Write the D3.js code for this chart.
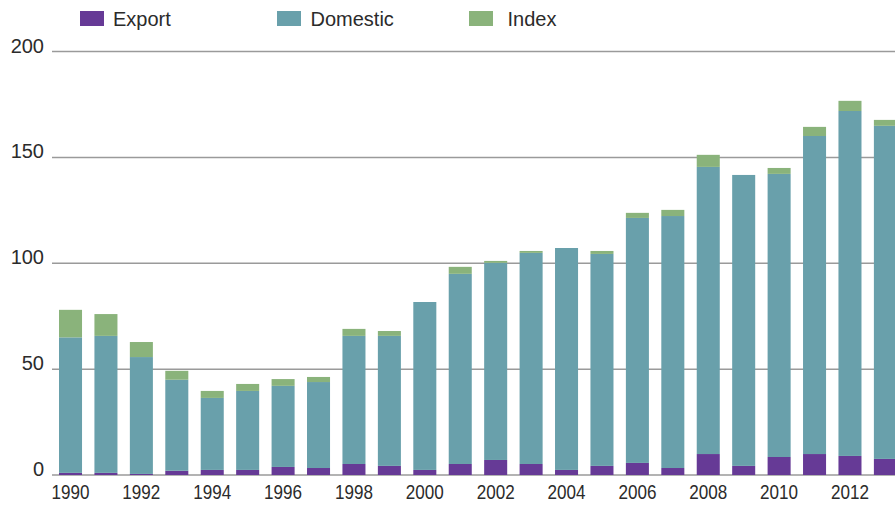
<!DOCTYPE html>
<html>
<head>
<meta charset="utf-8">
<script src="https://cdn.jsdelivr.net/npm/d3@7"></script>
<style>
  html, body { margin: 0; padding: 0; background: #fff; }
  svg { display: block; }
  text { font-family: "Liberation Sans", Arial, Helvetica, sans-serif; fill: #2b2b2b; }
</style>
</head>
<body>
<svg id="chart" width="895" height="507"></svg>
<script>
const years = [1990,1991,1992,1993,1994,1995,1996,1997,1998,1999,2000,2001,2002,2003,2004,2005,2006,2007,2008,2009,2010,2011,2012,2013];
const exportVals   = [1.0, 1.0, 0.5, 2.0, 2.4, 2.4, 3.8, 3.3, 5.2, 4.3, 2.4, 5.2, 7.1, 5.2, 2.4, 4.3, 5.7, 3.3, 9.9, 4.3, 8.5, 9.9, 9.0, 7.6];
const domesticVals = [64.0, 64.7, 55.2, 43.0, 34.0, 37.3, 38.3, 40.6, 60.5, 61.4, 79.3, 89.8, 93.1, 99.7, 104.8, 100.1, 115.7, 119.0, 135.6, 137.4, 133.7, 150.2, 162.9, 157.3];
const indexVals    = [13.0, 10.3, 7.1, 4.2, 3.3, 3.3, 3.2, 2.4, 3.3, 2.3, 0, 3.3, 0.9, 0.9, 0, 1.4, 2.4, 2.9, 5.7, 0, 2.8, 4.3, 4.8, 2.8];
const seriesNames = ["Export", "Domestic", "Index"];
const seriesColors = ["#663a96", "#69a0ab", "#8ab37b"];
const yTicks = [0, 50, 100, 150, 200];
const xTickLabels = [1990,1992,1994,1996,1998,2000,2002,2004,2006,2008,2010,2012];

const svg = d3.select("#chart");
const rows = years.map((yr, i) => ({year: yr, Export: exportVals[i], Domestic: domesticVals[i], Index: indexVals[i]}));

const step = 35.43;
const r0 = 59 - 0.175 * step;
const x = d3.scaleBand().domain(years).range([r0, r0 + 24 * step]).paddingInner(0.35).paddingOuter(0.175);
const y = d3.scaleLinear().domain([0, 200]).range([475, 51.5]);
const color = d3.scaleOrdinal().domain(seriesNames).range(seriesColors);

// gridlines
svg.append("g").selectAll("line").data(yTicks).join("line")
  .attr("x1", 52).attr("x2", 895)
  .attr("y1", d => y(d)).attr("y2", d => y(d))
  .attr("stroke", "#9a9a9a").attr("stroke-width", 1.5);

// y labels
svg.append("g").selectAll("text").data(yTicks).join("text")
  .attr("x", 44).attr("y", d => y(d) + 1)
  .attr("text-anchor", "end")
  .style("font-size", "20px")
  .text(d => d);

// stacked bars
const stack = d3.stack().keys(seriesNames)(rows);
svg.append("g").selectAll("g").data(stack).join("g")
  .attr("fill", d => color(d.key))
  .selectAll("rect").data(d => d).join("rect")
  .attr("x", d => x(d.data.year))
  .attr("width", x.bandwidth())
  .attr("y", d => y(d[1]))
  .attr("height", d => Math.max(0, y(d[0]) - y(d[1])));

// x labels
const xAxis = svg.append("g")
  .attr("transform", "translate(0,499)")
  .call(d3.axisBottom(x).tickValues(xTickLabels).tickSize(0).tickPadding(0));
xAxis.select(".domain").remove();
xAxis.selectAll("text")
  .attr("y", 0).attr("dy", 0)
  .attr("textLength", 38)
  .attr("lengthAdjust", "spacingAndGlyphs")
  .style("font-size", "20px")
  .style("font-family", "'Liberation Sans', Arial, Helvetica, sans-serif")
  .attr("fill", "#2b2b2b");

// legend
const legendPos = [{rx: 80, tx: 113}, {rx: 277, tx: 310.5}, {rx: 469, tx: 507.5}];
const legend = svg.append("g").selectAll("g").data(seriesNames).join("g");
legend.append("rect")
  .attr("x", (d, i) => legendPos[i].rx).attr("y", 11)
  .attr("width", 24).attr("height", 15)
  .attr("fill", d => color(d));
legend.append("text")
  .attr("x", (d, i) => legendPos[i].tx).attr("y", 26)
  .style("font-size", "20px")
  .text(d => d);
</script>
</body>
</html>
